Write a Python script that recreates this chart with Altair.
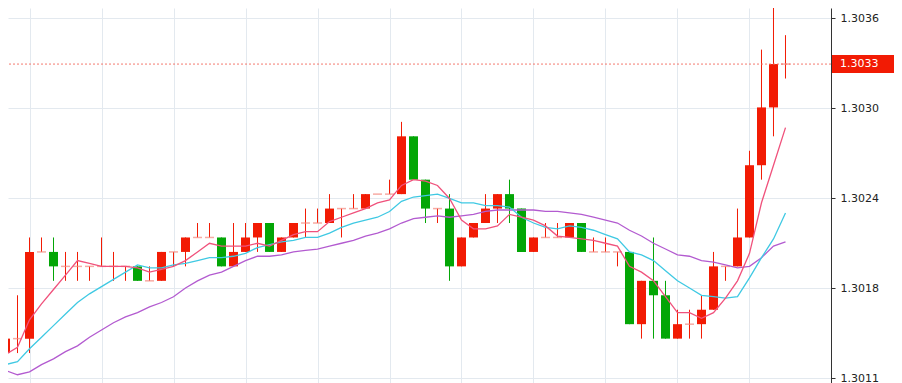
import altair as alt
import pandas as pd

# ---- candle data ----
opens = [1.3013, 1.3014, 1.3014, 1.3020, 1.3020, 1.3019, 1.3019, 1.3019, 1.3019, 1.3019,
         1.3019, 1.3019, 1.3018, 1.3018, 1.3020, 1.3020, 1.3021, 1.3021, 1.3021, 1.3019,
         1.3020, 1.3021, 1.3022, 1.3020, 1.3021, 1.3022, 1.3022, 1.3022, 1.3023, 1.3023,
         1.3023, 1.3024, 1.3024, 1.3024, 1.3028, 1.3025, 1.3023, 1.3023, 1.3019, 1.3021,
         1.3022, 1.3023, 1.3024, 1.3023, 1.3020, 1.3021, 1.3021, 1.3021, 1.3022, 1.3020,
         1.3020, 1.3020, 1.3020, 1.3015, 1.3018, 1.3017, 1.3014, 1.3015, 1.3015, 1.3016,
         1.3019, 1.3019, 1.3021, 1.3026, 1.3030, 1.3033]
highs = [1.3015, 1.3017, 1.3021, 1.3021, 1.3021, 1.3020, 1.3020, 1.3019, 1.3021, 1.3020,
         1.3019, 1.3019, 1.3019, 1.3020, 1.3020, 1.3021, 1.3022, 1.3022, 1.3021, 1.3022,
         1.3022, 1.3022, 1.3022, 1.3021, 1.3022, 1.3023, 1.3023, 1.3024, 1.3023, 1.3024,
         1.3024, 1.3024, 1.3025, 1.3029, 1.3028, 1.3025, 1.3023, 1.3024, 1.3021, 1.3022,
         1.3024, 1.3024, 1.3025, 1.3023, 1.3021, 1.3022, 1.3022, 1.3022, 1.3022, 1.3021,
         1.3021, 1.3020, 1.3020, 1.3018, 1.3021, 1.3018, 1.3016, 1.3016, 1.3017, 1.3020,
         1.3019, 1.3023, 1.3027, 1.3034, 1.3037, 1.3035]
lows = [1.3013, 1.3013, 1.3013, 1.3020, 1.3018, 1.3018, 1.3018, 1.3018, 1.3019, 1.3018,
        1.3018, 1.3018, 1.3018, 1.3018, 1.3019, 1.3019, 1.3021, 1.3021, 1.3019, 1.3019,
        1.3020, 1.3020, 1.3020, 1.3020, 1.3021, 1.3021, 1.3022, 1.3022, 1.3021, 1.3023,
        1.3023, 1.3024, 1.3024, 1.3024, 1.3025, 1.3022, 1.3022, 1.3018, 1.3019, 1.3021,
        1.3022, 1.3022, 1.3022, 1.3020, 1.3020, 1.3021, 1.3021, 1.3021, 1.3020, 1.3020,
        1.3020, 1.3019, 1.3015, 1.3014, 1.3014, 1.3014, 1.3014, 1.3014, 1.3014, 1.3016,
        1.3018, 1.3019, 1.3021, 1.3025, 1.3028, 1.3032]
closes = [1.3014, 1.3014, 1.3020, 1.3020, 1.3019, 1.3019, 1.3019, 1.3019, 1.3019, 1.3019,
          1.3019, 1.3018, 1.3018, 1.3020, 1.3020, 1.3021, 1.3021, 1.3021, 1.3019, 1.3020,
          1.3021, 1.3022, 1.3020, 1.3021, 1.3022, 1.3022, 1.3022, 1.3023, 1.3023, 1.3023,
          1.3024, 1.3024, 1.3024, 1.3028, 1.3025, 1.3023, 1.3023, 1.3019, 1.3021, 1.3022,
          1.3023, 1.3024, 1.3023, 1.3020, 1.3021, 1.3021, 1.3021, 1.3022, 1.3020, 1.3020,
          1.3020, 1.3020, 1.3015, 1.3018, 1.3017, 1.3014, 1.3015, 1.3015, 1.3016, 1.3019,
          1.3019, 1.3021, 1.3026, 1.3030, 1.3033, 1.3033]

# ---- moving averages ----
ma_fast = [1.30129, 1.30134, 1.30153, 1.30164, 1.30174, 1.30184, 1.30194, 1.30192, 1.30190, 1.30190,
           1.30190, 1.30189, 1.30186, 1.30188, 1.30190, 1.30194, 1.30200, 1.30206, 1.30204, 1.30204,
           1.30204, 1.30206, 1.30204, 1.30208, 1.30212, 1.30214, 1.30214, 1.30221, 1.30224, 1.30227,
           1.30230, 1.30234, 1.30236, 1.30246, 1.30250, 1.30249, 1.30246, 1.30237, 1.30222, 1.30216,
           1.30216, 1.30218, 1.30226, 1.30224, 1.30222, 1.30218, 1.30211, 1.30210, 1.30209, 1.30208,
           1.30206, 1.30204, 1.30190, 1.30186, 1.30180, 1.30169, 1.30158, 1.30158, 1.30154, 1.30158,
           1.30168, 1.30180, 1.30199, 1.30234, 1.30260, 1.30286]
ma_mid = [1.30122, 1.30124, 1.30133, 1.30141, 1.30149, 1.30157, 1.30165, 1.30171, 1.30176, 1.30181,
          1.30186, 1.30191, 1.30189, 1.30189, 1.30191, 1.30192, 1.30194, 1.30196, 1.30196, 1.30197,
          1.30199, 1.30203, 1.30205, 1.30207, 1.30208, 1.30210, 1.30210, 1.30213, 1.30217, 1.30220,
          1.30222, 1.30224, 1.30228, 1.30235, 1.30238, 1.30239, 1.30240, 1.30237, 1.30234, 1.30234,
          1.30232, 1.30232, 1.30231, 1.30224, 1.30220, 1.30217, 1.30216, 1.30218, 1.30217, 1.30215,
          1.30212, 1.30209, 1.30200, 1.30198, 1.30194, 1.30187, 1.30180, 1.30175, 1.30170, 1.30169,
          1.30168, 1.30169, 1.30182, 1.30196, 1.30209, 1.30227]
ma_slow = [1.30118, 1.30115, 1.30117, 1.30122, 1.30126, 1.30131, 1.30135, 1.30141, 1.30146, 1.30151,
           1.30155, 1.30158, 1.30162, 1.30165, 1.30169, 1.30175, 1.30180, 1.30184, 1.30186, 1.30190,
           1.30194, 1.30197, 1.30197, 1.30198, 1.30200, 1.30201, 1.30202, 1.30204, 1.30206, 1.30208,
           1.30211, 1.30213, 1.30216, 1.30220, 1.30223, 1.30224, 1.30225, 1.30224, 1.30225, 1.30226,
           1.30228, 1.30229, 1.30229, 1.30229, 1.30229, 1.30228, 1.30228, 1.30227, 1.30226, 1.30224,
           1.30222, 1.30220, 1.30215, 1.30211, 1.30206, 1.30202, 1.30198, 1.30197, 1.30194, 1.30193,
           1.30191, 1.30189, 1.30190, 1.30196, 1.30204, 1.30207]

last_price = 1.3033
tick_values = [1.301127, 1.30175, 1.302372, 1.302994, 1.303616]
tick_labels = ["1.3011", "1.3018", "1.3024", "1.3030", "1.3036"]
grid_candles = [2, 8, 14, 20, 26, 32, 38, 44, 50, 56, 62]

RED = "#f21b04"
GREEN = "#03a606"
DOJI = "#f4877d"
GRID = "#e3e9ef"
FONT = "DejaVu Sans"

n = len(opens)
df = pd.DataFrame({"i": list(range(n)), "open": opens, "high": highs,
                   "low": lows, "close": closes})
df["body_lo"] = df[["open", "close"]].min(axis=1)
df["body_hi"] = df[["open", "close"]].max(axis=1)
df["dir"] = ["up" if c > o else ("down" if c < o else "flat")
             for o, c in zip(opens, closes)]

ma = pd.DataFrame({"i": list(range(n)), "fast": ma_fast, "mid": ma_mid, "slow": ma_slow})
price_df = pd.DataFrame({"price": [last_price], "label": [f"{last_price:.4f}"]})

label_expr = " : ".join(
    f"abs(datum.value - {v}) < 0.000001 ? '{t}'" for v, t in zip(tick_values, tick_labels)
) + " : ''"

x_scale = alt.Scale(domain=[0.2083, 68.7917], nice=False, zero=False, padding=0)
y_scale = alt.Scale(domain=[1.301086, 1.303688], nice=False, zero=False, padding=0)

x_axis = alt.Axis(values=grid_candles, labels=False, ticks=False, domain=False,
                  grid=True, gridColor=GRID, gridWidth=1, title=None)
y_axis = alt.Axis(orient="right", values=tick_values, labelExpr=label_expr,
                  grid=True, gridColor=GRID, gridWidth=1,
                  domainColor="#333333", tickColor="#333333", tickSize=4,
                  labelPadding=5, labelFont=FONT, labelFontSize=11,
                  labelColor="#222222", labelOverlap=False, title=None)

X = alt.X("i:Q", scale=x_scale, axis=x_axis)
color = alt.Color("dir:N", scale=alt.Scale(domain=["up", "down", "flat"],
                                           range=[RED, GREEN, RED]), legend=None)

wicks = alt.Chart(df).mark_rule(strokeWidth=1, clip=True).encode(
    x=X, y=alt.Y("low:Q", scale=y_scale, axis=y_axis), y2="high:Q", color=color)

bodies = alt.Chart(df).transform_filter("datum.dir != 'flat'").mark_bar(
    size=9, clip=True).encode(
    x=X, y=alt.Y("body_lo:Q", scale=y_scale, axis=y_axis), y2="body_hi:Q", color=color)

dojis = alt.Chart(df).transform_filter("datum.dir == 'flat'").mark_tick(
    orient="horizontal", size=9, thickness=1.5, color=DOJI, clip=True).encode(
    x=X, y=alt.Y("open:Q", scale=y_scale, axis=y_axis))

def ma_line(field, col):
    return alt.Chart(ma).mark_line(color=col, strokeWidth=1.3, clip=True).encode(
        x=X, y=alt.Y(f"{field}:Q", scale=y_scale, axis=y_axis))

line_fast = ma_line("fast", "#f0527c")
line_mid = ma_line("mid", "#3fc9e3")
line_slow = ma_line("slow", "#b35bd0")

price_line = alt.Chart(price_df).mark_rule(
    color="#f36b5e", strokeDash=[2, 2], strokeWidth=1, opacity=0.9).encode(
    y=alt.Y("price:Q", scale=y_scale, axis=y_axis))

price_box = alt.Chart(price_df).mark_rule(
    color=RED, strokeWidth=18, strokeCap="butt").encode(
    x=alt.value(824), x2=alt.value(886), y=alt.Y("price:Q", scale=y_scale, axis=y_axis))

price_text = alt.Chart(price_df).mark_text(
    align="left", baseline="middle", color="white", font=FONT, fontSize=11).encode(
    x=alt.value(832), y=alt.Y("price:Q", scale=y_scale, axis=y_axis), text="label:N")

chart = alt.layer(
    wicks, bodies, dojis, line_slow, line_mid, line_fast, price_line, price_box, price_text
).properties(
    width=823, height=376,
    padding={"left": 0, "top": 0, "right": 63, "bottom": 0},
    autosize=alt.AutoSizeParams(type="none"),
    background="white",
).configure_view(stroke=None)

chart.save("out.html", embed_options={"renderer": "svg", "actions": False})
